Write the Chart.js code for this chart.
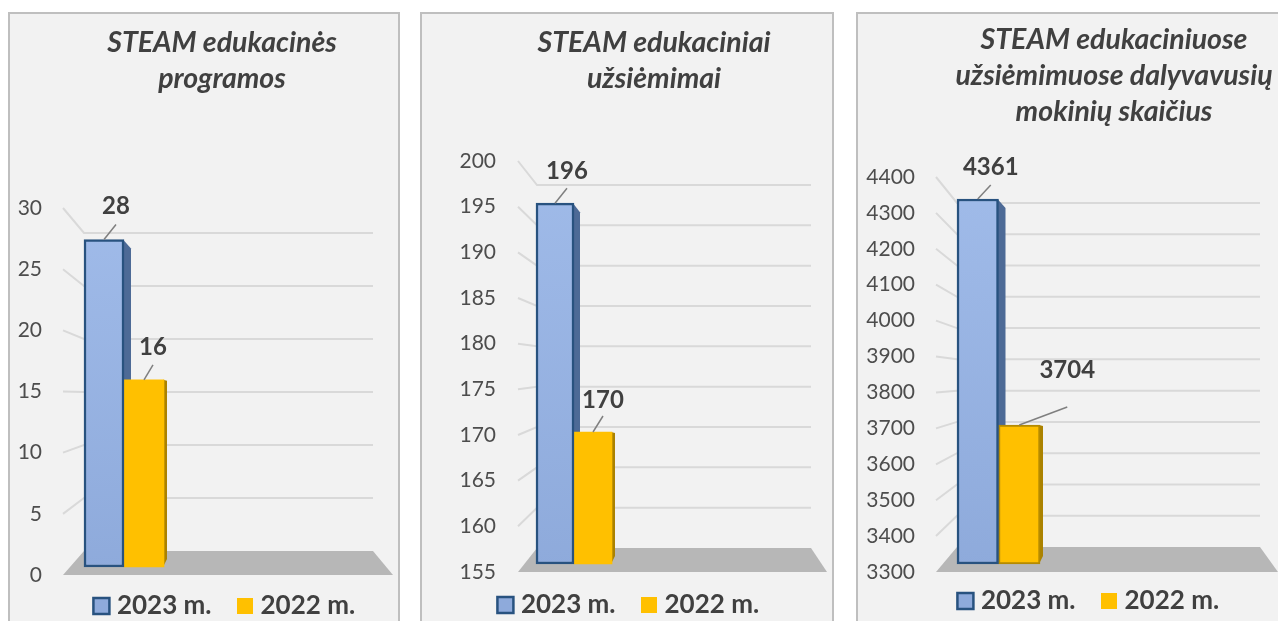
<!DOCTYPE html>
<html><head><meta charset="utf-8">
<script src="https://cdn.jsdelivr.net/npm/chart.js@4"></script>
<style>
html,body{margin:0;padding:0;background:#fff;width:1278px;height:621px;overflow:hidden;position:relative}
.panel{position:absolute;top:12px;height:640px;box-sizing:border-box;background:#f2f2f2;border:2px solid #bfbfbf}
canvas{position:absolute;top:0}
</style></head><body>
<div class="panel" style="left:8px;width:392px"></div>
<div class="panel" style="left:420px;width:414px"></div>
<div class="panel" style="left:856px;width:440px"></div>
<canvas id="c1" width="448" height="621" style="left:0"></canvas>
<canvas id="c2" width="414" height="621" style="left:420px"></canvas>
<canvas id="c3" width="460" height="621" style="left:857px"></canvas>
<script>
const seriesNames = ['2023 m.', '2022 m.'];
const category = ['Rodiklis'];
const titles = [
  ['STEAM edukacinės', 'programos'],
  ['STEAM edukaciniai', 'užsiėmimai'],
  ['STEAM edukaciniuose', 'užsiėmimuose dalyvavusių', 'mokinių skaičius']
];
const values2023 = [28, 196, 4361];
const values2022 = [16, 170, 3704];
const axisMin = [0, 155, 3300];
const axisMax = [30, 200, 4400];
const axisStep = [5, 5, 100];

// layout only (page pixels)
const looks = [
  {id:'c1', left:0, titleDx:-2, titleTop:25, titleBottom:111, tickRight:42, legendDx:3,
   frontTop:208, frontBottom:575, barBase:567, barK:327.5/28, backTop:233, backBottom:551,
   fl:63, bl:84, br:373, fr:393, barL:84, barR:164, legendY:606, leftFace:[7,3], goldEdge:0,
   offs:[[12,-33,-15],[9,-33,-15]]},
  {id:'c2', left:420, titleDx:27, titleTop:25, titleBottom:64, tickRight:496, legendDx:4,
   frontTop:161, frontBottom:572, barBase:564, barK:8.8, backTop:185, backBottom:548,
   fl:518, bl:537, br:811, fr:827, barL:536, barR:612, legendY:605, leftFace:[6,3], goldEdge:0,
   offs:[[12,-32,-15],[10,-32,-16]]},
  {id:'c3', left:857, titleDx:27, titleTop:22, titleBottom:47, tickRight:915, legendDx:4,
   frontTop:177, frontBottom:572, barBase:564, barK:0.344, backTop:203, backBottom:547,
   fl:936, bl:957, br:1260, fr:1278, barL:957, barR:1040, legendY:601, leftFace:[7,3], goldEdge:2,
   offs:[[13,-32,-14],[48,-55,-18]]}
];

const FONT = 'Lato';

looks.forEach((g, i) => {
  const min = axisMin[i], max = axisMax[i];
  const span = g.frontBottom - g.frontTop;
  const barMin = min - (g.frontBottom - g.barBase) / g.barK;
  const barMax = barMin + span / g.barK;
  const backK = (g.backBottom - g.backTop) / (max - min);
  const backMin = min - (g.frontBottom - g.backBottom) / backK;
  const backMax = backMin + span / backK;
  const x = v => v - g.left;
  const canvas = document.getElementById(g.id);

  const scene = {
    id: 'scene',
    afterLayout(chart) {
      const t = chart.titleBlock, l = chart.legend;
      t.left += g.titleDx; t.right += g.titleDx;
      l.left += g.legendDx; l.right += g.legendDx;
      const pad = l.options.labels.padding;
      l.top = g.legendY - pad - 13;
      l.bottom = l.top + 80;
      l.height = 80;
    },
    beforeDatasetsDraw(chart) {
      const c = chart.ctx, y = chart.scales.y, back = chart.scales.yBack;
      c.save();
      c.fillStyle = '#b7b7b7';
      c.beginPath();
      c.moveTo(x(g.fl), y.getPixelForValue(min));
      c.lineTo(x(g.bl), back.getPixelForValue(min));
      c.lineTo(x(g.br), back.getPixelForValue(min));
      c.lineTo(x(g.fr), y.getPixelForValue(min));
      c.closePath(); c.fill();
      c.strokeStyle = '#d9d9d9'; c.lineWidth = 2;
      y.ticks.forEach(t => {
        if (t.value === min) return;
        c.beginPath();
        c.moveTo(x(g.fl), y.getPixelForValue(t.value));
        c.lineTo(x(g.bl), back.getPixelForValue(t.value));
        c.lineTo(x(g.br), back.getPixelForValue(t.value));
        c.stroke();
      });
      [0, 1].forEach(d => {
        const el = chart.getDatasetMeta(d).data[0];
        const r = el.x + el.width / 2, dx = g.leftFace[d];
        c.fillStyle = d === 0 ? '#4d6a96' : '#ab8200';
        c.beginPath();
        c.moveTo(r - 1, el.y);
        c.lineTo(r + dx, el.y + (d === 0 ? 9 : 1));
        c.lineTo(r + dx, el.base - (d === 0 ? 0 : 8));
        c.lineTo(r - 1, el.base);
        c.closePath(); c.fill();
      });
      c.restore();
    },
    afterDatasetsDraw(chart) {
      const c = chart.ctx;
      c.save();
      [0, 1].forEach(d => {
        const el = chart.getDatasetMeta(d).data[0];
        const off = g.offs[d], v = chart.data.datasets[d].data[0];
        c.strokeStyle = '#7f7f7f'; c.lineWidth = 1.5;
        c.beginPath();
        c.moveTo(el.x, el.y);
        c.lineTo(el.x + off[0], el.y + off[2]);
        c.stroke();
        c.fillStyle = '#404040';
        c.font = 'bold 24px ' + FONT;
        c.textAlign = 'center'; c.textBaseline = 'middle';
        c.fillText(String(v), el.x + off[0], el.y + off[1]);
      });
      c.restore();
    }
  };

  const blueFill = ctx => {
    const a = ctx.chart.chartArea;
    if (!a) return '#8eaadb';
    const gr = ctx.chart.ctx.createLinearGradient(0, a.top, 0, a.bottom);
    gr.addColorStop(0, '#a0bbe9'); gr.addColorStop(1, '#8eaadb');
    return gr;
  };

  new Chart(canvas, {
    type: 'bar',
    data: {
      labels: category,
      datasets: [
        {label: seriesNames[0], data: [values2023[i]], yAxisID: 'yBar', base: min,
         backgroundColor: blueFill, borderColor: '#28527f', borderWidth: 2.5, borderSkipped: false, clip: false},
        {label: seriesNames[1], data: [values2022[i]], yAxisID: 'yBar', base: min,
         backgroundColor: '#ffc000', borderColor: '#b58a00', borderWidth: g.goldEdge, borderSkipped: false, clip: false}
      ]
    },
    options: {
      responsive: false, animation: false, devicePixelRatio: 1,
      layout: {padding: {left: 0, top: 0, right: 0, bottom: 621 - g.frontBottom - 1}},
      datasets: {bar: {barPercentage: 1, categoryPercentage: 1}},
      scales: {
        x: {display: false},
        y: {position: 'left', min, max,
            afterFit(s) { s.width = x(g.barL); s.paddingTop = 0; s.paddingBottom = 0; },
            grid: {display: false, drawTicks: false}, border: {display: false},
            ticks: {stepSize: axisStep[i], autoSkip: false, padding: g.barL - g.tickRight, color: '#4d4d4d',
                     callback: v => String(v),
                     font: {family: FONT, size: 21}}},
        yBar: {display: false, position: 'left', min: barMin, max: barMax},
        yBack: {display: true, position: 'right', min: backMin, max: backMax,
                afterFit(s) { s.width = canvas.width - x(g.barR); s.paddingTop = 0; s.paddingBottom = 0; },
                grid: {display: false, drawTicks: false}, border: {display: false},
                ticks: {display: false}}
      },
      plugins: {
        tooltip: {enabled: false},
        title: {display: true, text: titles[i], color: '#404040',
                font: {family: FONT, size: 28.5, weight: 'bold', style: 'italic', lineHeight: 36 / 28.5},
                padding: {top: g.titleTop, bottom: g.titleBottom}},
        legend: {position: 'bottom', maxHeight: 1,
                 labels: {usePointStyle: true, pointStyle: 'rect', boxWidth: 5, boxHeight: 16, padding: 31,
                          color: '#404040', font: {family: FONT, size: 26, weight: 'bold'},
                          generateLabels(chart) {
                            const items = Chart.defaults.plugins.legend.labels.generateLabels(chart);
                            items[1].lineWidth = 0;
                            return items;
                          }}}
      }
    },
    plugins: [scene]
  });
});
</script>
</body></html>
